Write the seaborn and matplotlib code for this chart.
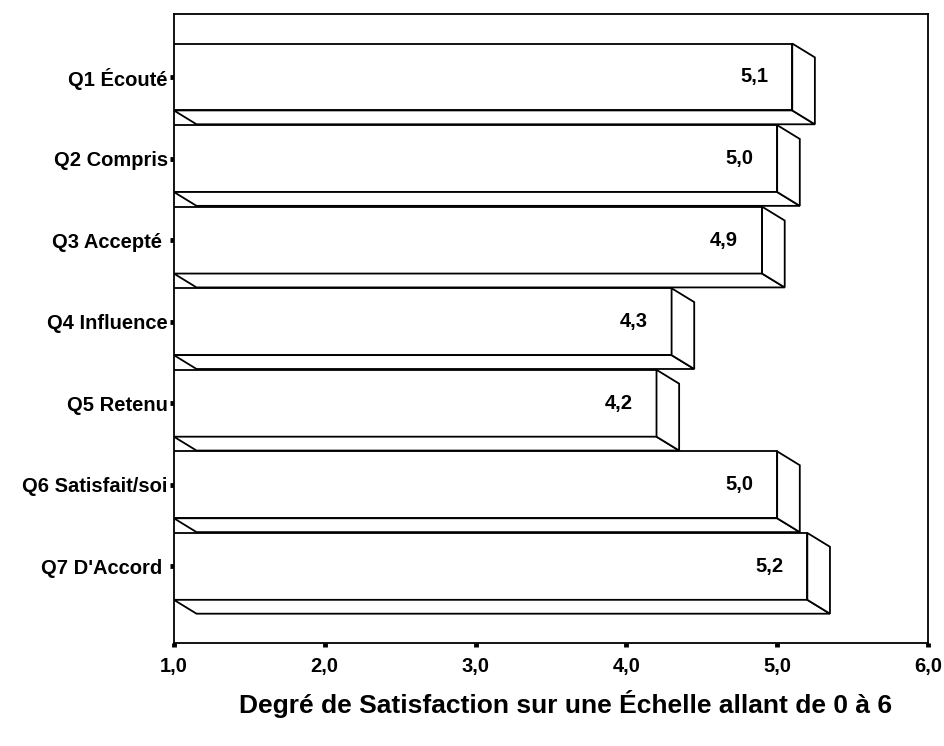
import matplotlib
matplotlib.use("Agg")
import matplotlib.pyplot as plt
import seaborn as sns
import pandas as pd
from matplotlib.patches import Polygon

# Données
questions = ["Q1 Écouté", "Q2 Compris", "Q3 Accepté ", "Q4 Influence",
             "Q5 Retenu", "Q6 Satisfait/soi", "Q7 D'Accord "]
scores = [5.1, 5.0, 4.9, 4.3, 4.2, 5.0, 5.2]
xticks = [1.0, 2.0, 3.0, 4.0, 5.0, 6.0]
xlabel = "Degré de Satisfaction sur une Échelle allant de 0 à 6"

df = pd.DataFrame({"question": questions, "score": scores})

sns.set_style("white")
plt.rcParams["font.family"] = ["Liberation Sans", "DejaVu Sans"]
plt.rcParams["text.color"] = "black"
plt.rcParams["xtick.color"] = "black"
plt.rcParams["ytick.color"] = "black"

fig = plt.figure(figsize=(9.45, 7.46), dpi=100)
ax = fig.add_axes([0.184, 0.138, 0.798, 0.843])

sns.barplot(data=df, x="score", y="question", orient="h", width=0.82,
            color="white", edgecolor="black", linewidth=1.3, ax=ax,
            saturation=1)

# effet 3D : face du bas et face de droite
dx, dy = 0.15, 0.17
for p in ax.patches:
    x0 = 1.0
    x1 = p.get_x() + p.get_width()
    top = p.get_y()
    bot = p.get_y() + p.get_height()
    bottom_face = Polygon([(x0, bot), (x1, bot), (x1 + dx, bot + dy), (x0 + dx, bot + dy)],
                          closed=True, facecolor="white", edgecolor="black", lw=1.3)
    side_face = Polygon([(x1, top), (x1 + dx, top + dy), (x1 + dx, bot + dy), (x1, bot)],
                        closed=True, facecolor="white", edgecolor="black", lw=1.3)
    ax.add_patch(bottom_face)
    ax.add_patch(side_face)

for i, v in enumerate(scores):
    ax.text(v - 0.16, i, f"{v:.1f}".replace(".", ","), ha="right", va="center",
            fontsize=14.5, fontweight="bold", color="black")

ax.set_xlim(1.0, 6.0)
ax.set_ylim(6.94, -0.77)
ax.set_xticks(xticks)
ax.set_xticklabels([f"{t:.1f}".replace(".", ",") for t in xticks],
                   fontsize=14.5, fontweight="bold")
ax.set_yticks(range(len(questions)))
ax.set_yticklabels(questions, fontsize=14.5, fontweight="bold")
ax.tick_params(axis="both", direction="out", length=3, width=3.5,
               bottom=True, left=True, colors="black")
ax.tick_params(axis="x", pad=7)
ax.tick_params(axis="y", pad=1.5)
ax.set_ylabel("")
ax.set_xlabel(xlabel, fontsize=19, fontweight="bold", color="black")
ax.xaxis.set_label_coords(0.52, -0.097)
ax.xaxis.label.set_va("center")

for s in ax.spines.values():
    s.set_visible(True)
    s.set_color("black")
    s.set_linewidth(1.3)

fig.savefig("out.png", dpi=100, facecolor="white")
plt.close()
